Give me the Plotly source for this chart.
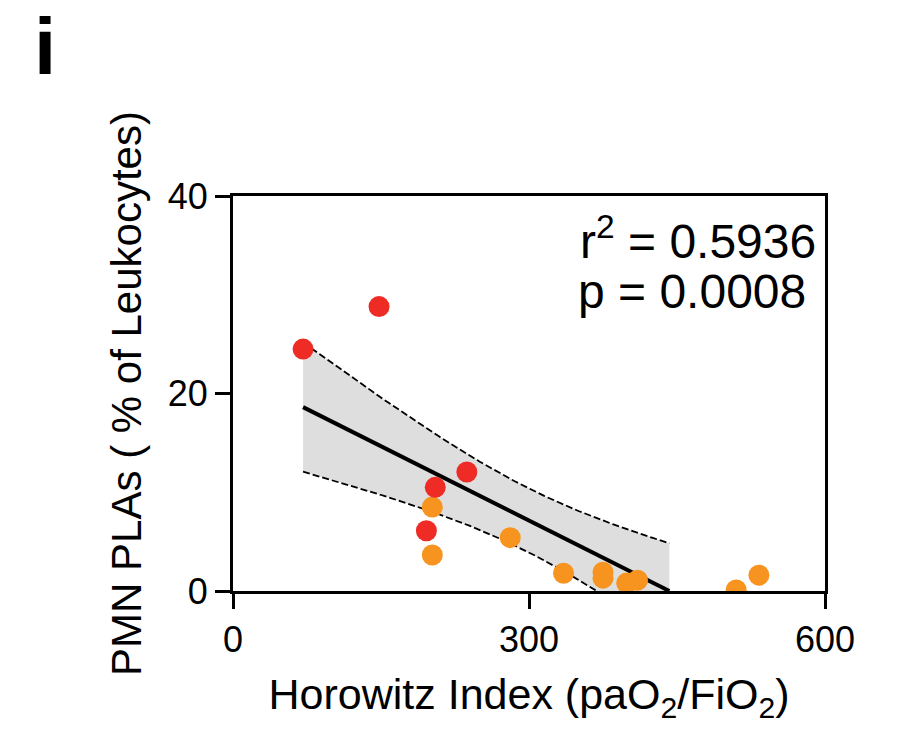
import numpy as np
import plotly.graph_objects as go

# Data
red_x = [71, 148, 237, 205, 196]
red_y = [24.5, 28.8, 12.05, 10.5, 6.1]
orange_x = [202, 202, 281, 335, 375, 375, 399, 410, 510, 533]
orange_y = [8.5, 3.65, 5.4, 1.8, 1.9, 1.3, 0.8, 1.1, 0.1, 1.6]

x_ticks = [0, 300, 600]
y_ticks = [0, 20, 40]
r2_text = "r<sup>2</sup> = 0.5936"
p_text = "p = 0.0008"

RED = "#EE2B25"
ORANGE = "#F7931F"
FONT = "Liberation Sans, Arial, Helvetica, sans-serif"

# Linear regression with 95% confidence band
xa = np.array(red_x + orange_x, dtype=float)
ya = np.array(red_y + orange_y, dtype=float)
n = len(xa)
slope, intercept = np.polyfit(xa, ya, 1)
resid = ya - (slope * xa + intercept)
s = np.sqrt(np.sum(resid ** 2) / (n - 2))
xm = xa.mean()
sxx = np.sum((xa - xm) ** 2)
t_crit = 2.1604  # t(0.975, df=13)
x_zero = -intercept / slope
xg = np.linspace(xa.min(), min(x_zero, xa.max()), 200)
yfit = slope * xg + intercept
se = s * np.sqrt(1.0 / n + (xg - xm) ** 2 / sxx)
upper = yfit + t_crit * se
lower = yfit - t_crit * se

fig = go.Figure()
fig.add_trace(go.Scatter(
    x=np.concatenate([xg, xg[::-1]]), y=np.concatenate([upper, lower[::-1]]),
    fill="toself", fillcolor="#DEDEDE", line=dict(width=0), mode="lines",
    hoverinfo="skip", showlegend=False))
fig.add_trace(go.Scatter(x=xg, y=upper, mode="lines",
                         line=dict(color="black", width=1.8, dash="7px,3px"), showlegend=False))
fig.add_trace(go.Scatter(x=xg, y=lower, mode="lines",
                         line=dict(color="black", width=1.8, dash="7px,3px"), showlegend=False))
fig.add_trace(go.Scatter(x=xg, y=yfit, mode="lines",
                         line=dict(color="black", width=4), showlegend=False))
fig.add_trace(go.Scatter(x=orange_x, y=orange_y, mode="markers",
                         marker=dict(color=ORANGE, size=21, line=dict(width=0)), showlegend=False))
fig.add_trace(go.Scatter(x=red_x, y=red_y, mode="markers",
                         marker=dict(color=RED, size=21, line=dict(width=0)), showlegend=False))

axis_common = dict(showline=True, linecolor="black", linewidth=3, mirror=True,
                   ticks="outside", ticklen=15, tickwidth=3, tickcolor="black",
                   showgrid=False, zeroline=False,
                   tickfont=dict(family=FONT, size=36, color="black"))

fig.update_xaxes(range=[0, 600], tickvals=x_ticks, ticktext=[str(v) for v in x_ticks],
                 title=dict(text="Horowitz Index (paO<sub>2</sub>/FiO<sub>2</sub>)",
                            font=dict(family=FONT, size=43, color="black"), standoff=20),
                 **axis_common)
fig.update_yaxes(range=[0, 40], tickvals=y_ticks, ticktext=[str(v) for v in y_ticks],
                 title=dict(text="PMN PLAs ( % of Leukocytes)",
                            font=dict(family=FONT, size=42, color="black"), standoff=14),
                 **axis_common)

fig.add_annotation(x=1, y=1, xref="paper", yref="paper", xanchor="right", yanchor="top",
                   xshift=-7, yshift=-10, text=r2_text, showarrow=False, align="right",
                   font=dict(family=FONT, size=48, color="black"))
fig.add_annotation(x=1, y=1, xref="paper", yref="paper", xanchor="right", yanchor="top",
                   xshift=-17, yshift=-67, text=p_text, showarrow=False, align="right",
                   font=dict(family=FONT, size=48, color="black"))
fig.add_annotation(x=(32 - 233) / 592, y=1 + (196 - 0) / 395, xref="paper", yref="paper",
                   text="<b>i</b>", showarrow=False,
                   xanchor="left", yanchor="top", font=dict(family=FONT, size=80, color="black"))

fig.update_layout(width=899, height=740, plot_bgcolor="white", paper_bgcolor="white",
                  margin=dict(l=233, r=74, t=196, b=149), showlegend=False)

fig.write_html("out.html")
